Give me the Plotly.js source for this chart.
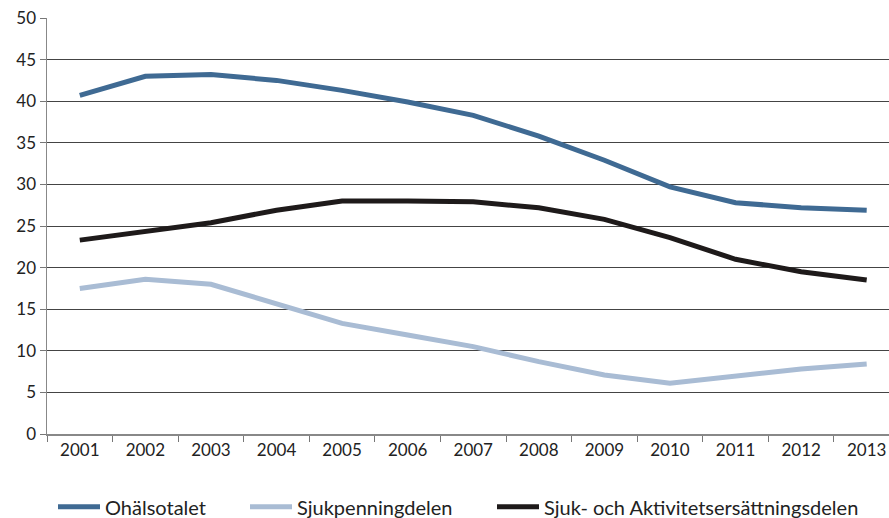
<!DOCTYPE html>
<html>
<head>
<meta charset="utf-8">
<script src="https://cdn.plot.ly/plotly-3.0.1.min.js"></script>
<style>html,body{margin:0;padding:0;overflow:hidden;background:#fff}</style>
</head>
<body>
<div id="chart" style="width:889px;height:518px"></div>
<script>
const years = ["2001","2002","2003","2004","2005","2006","2007","2008","2009","2010","2011","2012","2013"];
const ohalsotalet = [40.7, 43.0, 43.2, 42.5, 41.3, 39.9, 38.3, 35.8, 32.9, 29.7, 27.8, 27.2, 26.9];
const sjukpenning = [17.5, 18.6, 18.0, 15.7, 13.3, 11.9, 10.5, 8.7, 7.1, 6.1, 7.0, 7.8, 8.4];
const sjukAktivitet = [23.3, 24.4, 25.4, 26.9, 28.0, 28.0, 27.9, 27.2, 25.8, 23.6, 21.0, 19.5, 18.5];
const seriesNames = ["Ohälsotalet", "Sjukpenningdelen", "Sjuk- och Aktivitetsersättningsdelen"];

const font = "Lato, 'Open Sans', sans-serif";
const colors = ["#3f6a93", "#a9bcd4", "#1e1a1a"];
const legendIds = ["legend", "legend2", "legend3"];
const data = [ohalsotalet, sjukpenning, sjukAktivitet].map((ys, i) => ({
  x: years, y: ys, type: "scatter", mode: "lines", name: seriesNames[i],
  line: {color: colors[i], width: 5},
  legend: legendIds[i]
}));

function leg(xpx) {
  return {x: (xpx - 47) / 842, xanchor: "left", y: -0.175, yanchor: "middle",
    orientation: "h", itemwidth: 42,
    font: {family: font, size: 20, color: "#222"}, bgcolor: "rgba(0,0,0,0)"};
}

const layout = {
  width: 889, height: 518,
  margin: {l: 47, r: 0, t: 18, b: 84, autoexpand: false},
  paper_bgcolor: "#fff", plot_bgcolor: "#fff",
  showlegend: true,
  font: {family: font, size: 16, color: "#222"},
  xaxis: {
    type: "category", range: [-0.5, 12.34], tickson: "boundaries",
    ticks: "outside", ticklen: 6, tickcolor: "#777", tickwidth: 1,
    showline: true, linecolor: "#888", linewidth: 1.5,
    showgrid: false, zeroline: false,
    tickfont: {family: font, size: 17, color: "#222"}
  },
  yaxis: {
    range: [0, 50], dtick: 5, tick0: 0,
    ticks: "outside", ticklen: 6, tickcolor: "#777",
    showline: true, linecolor: "#888", linewidth: 1.5,
    showgrid: true, gridcolor: "#444", gridwidth: 1, zeroline: false,
    tickfont: {family: font, size: 17, color: "#222"}
  },
  legend: leg(53),
  legend2: leg(245),
  legend3: leg(492)
};

Plotly.newPlot("chart", data, layout, {displayModeBar: false, staticPlot: true});
</script>
</body>
</html>
